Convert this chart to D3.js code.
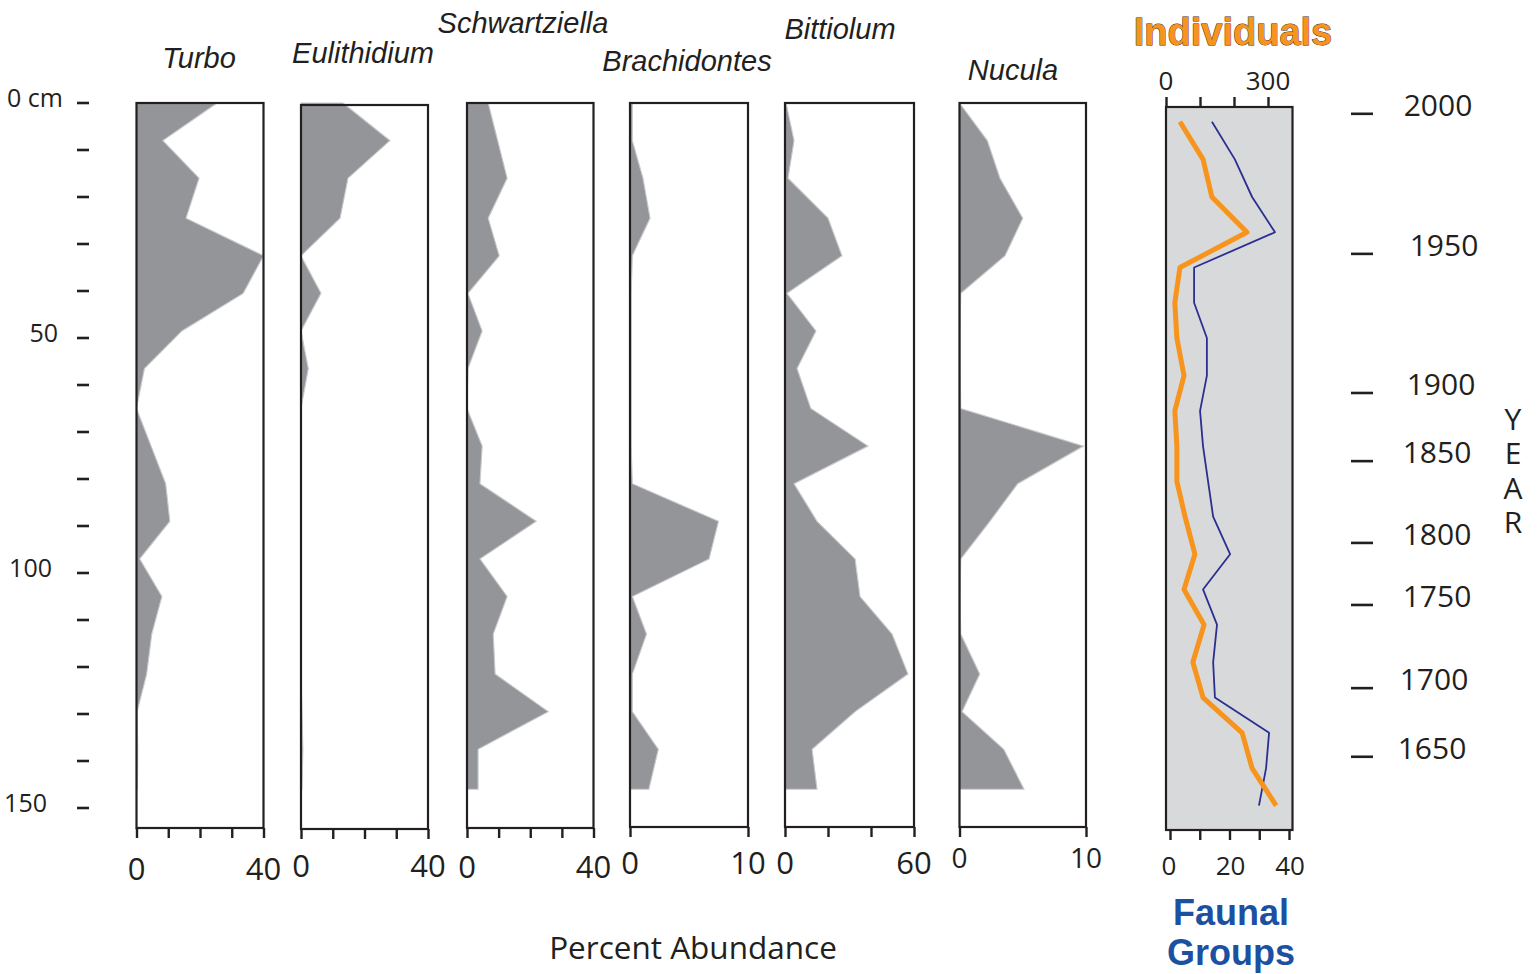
<!DOCTYPE html>
<html>
<head>
<meta charset="utf-8">
<script src="https://cdn.jsdelivr.net/npm/d3@7"></script>
<style>
  html, body { margin: 0; padding: 0; background: #fff; }
  svg { display: block; }
  .num { font-family: "Open Sans", "Noto Sans", sans-serif; fill: #231f20; }
  .taxon { font-family: "Liberation Sans", Arial, sans-serif; font-style: italic; fill: #231f20; }
  .stacked { writing-mode: vertical-rl; text-orientation: upright; }
</style>
</head>
<body>
<svg id="chart" width="1539" height="974"></svg>
<script>
// Core depth (cm) of each faunal sample
const sampleDepth = [0, 8, 16, 24.5, 32.5, 40.5, 48.5, 56.5, 65, 73, 81, 89, 97, 105, 113, 121.5, 129.5, 137.5, 146];

// Percent abundance of each taxon per sample
const turbo         = [25.4, 8.3, 19.7, 15.6, 40, 33.6, 14.3, 2.5, 0, 4.6, 9.2, 10.5, 1, 8, 4.8, 3.2, 0.2, 0.4, 0.3];
const eulithidium   = [13.2, 28, 14.8, 12.3, 0, 6.3, 0, 2.3, 0, 0, 0, 0, 0, 0, 0, 0, 0.3, 0.6, 0.3];
const schwartziella = [6.7, 9.7, 12.7, 6.7, 10.2, 0.3, 4.8, 0.3, 0, 4.8, 4.1, 21.9, 4.1, 12.7, 8.3, 8.9, 25.7, 3.5, 3.5];
const brachidontes  = [0.2, 0.2, 1.1, 1.7, 0.2, 0.1, 0.1, 0.1, 0.1, 0.1, 0.2, 7.5, 6.7, 0.2, 1.4, 0.2, 0.2, 2.4, 1.6];
const bittiolum     = [0.5, 4.2, 1.4, 20, 26.5, 0.9, 14.4, 5.6, 12, 38.6, 4.2, 14.9, 32.6, 34.9, 49.8, 57.2, 32.6, 12.6, 14.9];
const nucula        = [0, 2.2, 3.2, 5.0, 3.6, 0.1, 0.05, 0.05, 0.1, 9.8, 4.6, 2.4, 0.1, 0.05, 0.1, 1.6, 0.2, 3.5, 5.1];

// Counts per sample (individuals and faunal groups)
const countDepth   = [4, 12, 20, 27.5, 35, 42.5, 50, 58, 65.5, 73, 80.5, 88, 96, 103.5, 111, 119, 126.5, 134, 141.5, 149.5];
const individuals  = [41, 109, 135, 238, 41, 26, 32, 53, 26, 32, 32, 56, 85, 53, 112, 79, 109, 224, 253, 324];
const faunalGroups = [14.1, 21.8, 27.6, 35.3, 8.1, 8.1, 12.4, 12.4, 10.1, 11.1, 12.8, 14.5, 20.2, 11.1, 15.8, 14.5, 15.1, 33.3, 32.3, 29.9];

// Depth axis ticks and labels
const depthTicks  = [0, 10, 20, 30, 40, 50, 60, 70, 80, 90, 100, 110, 120, 130, 140, 150];
const depthLabels = ["0 cm", "50", "100", "150"];
const depthLabelValues = [0, 50, 100, 150];

// Age model: calendar year at core depth
const years     = [2000, 1950, 1900, 1850, 1800, 1750, 1700, 1650];
const yearDepth = [2.3, 32.1, 61.7, 76.2, 93.6, 106.8, 124.5, 139.1];
const yearTitle = "YEAR";

const svg = d3.select("#chart");
const ink = "#231f20";
const y = d3.scaleLinear().domain([0, 150]).range([103, 808]);

// --- depth axis on the left ---
const dAxis = svg.append("g");
dAxis.selectAll("line").data(depthTicks).join("line")
  .attr("x1", 77).attr("x2", 89)
  .attr("y1", d => y(d)).attr("y2", d => y(d))
  .attr("stroke", ink).attr("stroke-width", 2.6);
dAxis.selectAll("text").data(depthLabelValues).join("text")
  .attr("class", "num")
  .attr("x", (d, i) => [63, 58, 52, 47][i])
  .attr("y", d => y(d) + 4)
  .attr("text-anchor", "end")
  .attr("font-size", 25)
  .text((d, i) => depthLabels[i]);

// --- taxon panels ---
const panels = [
  { name: "Turbo",         values: turbo,         max: 40, ticks: [0,10,20,30,40], x0: 136.5, x1: 263.5, top: 103, bottom: 828, tx: 199,  ty: 68, lab: 880, fs: 31 },
  { name: "Eulithidium",   values: eulithidium,   max: 40, ticks: [0,10,20,30,40], x0: 301,   x1: 428,   top: 105, bottom: 829, tx: 363,  ty: 63, lab: 877, fs: 31 },
  { name: "Schwartziella", values: schwartziella, max: 40, ticks: [0,10,20,30,40], x0: 467,   x1: 593.5, top: 103, bottom: 828, tx: 523,  ty: 33, lab: 878, fs: 31 },
  { name: "Brachidontes",  values: brachidontes,  max: 10, ticks: [0,10],          x0: 630,   x1: 748,   top: 103, bottom: 827, tx: 687,  ty: 71, lab: 874, fs: 31 },
  { name: "Bittiolum",     values: bittiolum,     max: 60, ticks: [0,20,40,60],    x0: 785,   x1: 914,   top: 103, bottom: 827, tx: 840,  ty: 39, lab: 874, fs: 31 },
  { name: "Nucula",        values: nucula,        max: 10, ticks: [0,10],          x0: 959.5, x1: 1086,  top: 103, bottom: 827, tx: 1013, ty: 80, lab: 868, fs: 28 }
];

panels.forEach(p => {
  const x = d3.scaleLinear().domain([0, p.max]).range([p.x0, p.x1]);
  const g = svg.append("g");

  g.append("rect")
    .attr("x", p.x0).attr("y", p.top)
    .attr("width", p.x1 - p.x0).attr("height", p.bottom - p.top)
    .attr("fill", "#fff");

  const area = d3.area()
    .y((d, i) => y(sampleDepth[i]))
    .x0(x(0))
    .x1(d => x(d));
  g.append("path")
    .datum(p.values)
    .attr("d", area)
    .attr("fill", "#939598")
    .attr("stroke", "#c9cacc")
    .attr("stroke-width", 1.1);

  g.append("rect")
    .attr("x", p.x0).attr("y", p.top)
    .attr("width", p.x1 - p.x0).attr("height", p.bottom - p.top)
    .attr("fill", "none").attr("stroke", ink).attr("stroke-width", 2.2);

  const axis = d3.axisBottom(x).tickValues(p.ticks).tickSize(10).tickFormat("");
  const ag = g.append("g").attr("transform", `translate(0,${p.bottom})`).call(axis);
  ag.select(".domain").remove();
  ag.selectAll(".tick line").attr("stroke", ink).attr("stroke-width", 2.4);

  const ends = [0, p.max];
  g.selectAll(".endlab").data(ends).join("text")
    .attr("class", "num")
    .attr("x", d => x(d))
    .attr("y", p.lab)
    .attr("text-anchor", "middle")
    .attr("font-size", p.fs)
    .text(d => d);

  g.append("text")
    .attr("class", "taxon")
    .attr("x", p.tx).attr("y", p.ty)
    .attr("text-anchor", "middle")
    .attr("font-size", 29)
    .text(p.name);
});

// --- counts panel (individuals on top axis, faunal groups on bottom axis) ---
const cx0 = 1166, cx1 = 1292.5, ctop = 107, cbot = 830;
const xInd = d3.scaleLinear().domain([0, 300]).range([1166, 1268]);
const xFg  = d3.scaleLinear().domain([0, 40]).range([1170, 1289]);

const cg = svg.append("g");
cg.append("rect")
  .attr("x", cx0).attr("y", ctop).attr("width", cx1 - cx0).attr("height", cbot - ctop)
  .attr("fill", "#d8d9db").attr("stroke", ink).attr("stroke-width", 2.2);

cg.append("path")
  .datum(faunalGroups)
  .attr("d", d3.line().x(d => xFg(d)).y((d, i) => y(countDepth[i])))
  .attr("fill", "none").attr("stroke", "#2b2f8f").attr("stroke-width", 1.8)
  .attr("stroke-linejoin", "round");

cg.append("path")
  .datum(individuals)
  .attr("d", d3.line().x(d => xInd(d)).y((d, i) => y(countDepth[i])))
  .attr("fill", "none").attr("stroke", "#f7941d").attr("stroke-width", 5)
  .attr("stroke-linejoin", "round");

const topAxis = cg.append("g").attr("transform", `translate(0,${ctop})`)
  .call(d3.axisTop(xInd).tickValues([0, 100, 200, 300]).tickSize(10).tickFormat(""));
topAxis.select(".domain").remove();
topAxis.selectAll(".tick line").attr("stroke", ink).attr("stroke-width", 2.4);
cg.selectAll(".toplab").data([0, 300]).join("text")
  .attr("class", "num")
  .attr("x", d => xInd(d)).attr("y", 90)
  .attr("text-anchor", "middle").attr("font-size", 26)
  .text(d => d);

const botAxis = cg.append("g").attr("transform", `translate(0,${cbot})`)
  .call(d3.axisBottom(xFg).tickValues([0, 10, 20, 30, 40]).tickSize(10).tickFormat(""));
botAxis.select(".domain").remove();
botAxis.selectAll(".tick line").attr("stroke", ink).attr("stroke-width", 2.4);
cg.selectAll(".botlab").data([0, 20, 40]).join("text")
  .attr("class", "num")
  .attr("x", d => xFg(d) - (d === 0 ? 1 : -1)).attr("y", 875)
  .attr("text-anchor", "middle").attr("font-size", 26)
  .text(d => d);

cg.append("text")
  .attr("x", 1233).attr("y", 45)
  .attr("text-anchor", "middle")
  .attr("font-family", "Liberation Sans, Arial, sans-serif")
  .attr("font-weight", "bold").attr("font-size", 38)
  .attr("fill", "#f7941d").attr("stroke", "#3d2b1f").attr("stroke-width", 0.9)
  .attr("paint-order", "stroke")
  .text("Individuals");

const fgTitle = cg.append("text")
  .attr("text-anchor", "middle")
  .attr("font-family", "Liberation Sans, Arial, sans-serif")
  .attr("font-weight", "bold").attr("font-size", 36)
  .attr("fill", "#1c51a1");
fgTitle.append("tspan").attr("x", 1231).attr("y", 925).text("Faunal");
fgTitle.append("tspan").attr("x", 1231).attr("y", 965).text("Groups");

// --- year axis on the right ---
const ya = svg.append("g");
ya.selectAll("line").data(yearDepth).join("line")
  .attr("x1", 1351).attr("x2", 1373)
  .attr("y1", d => y(d)).attr("y2", d => y(d))
  .attr("stroke", ink).attr("stroke-width", 2.6);
ya.selectAll("text.yr").data(years).join("text")
  .attr("class", "num yr")
  .attr("x", (d, i) => [1438, 1444, 1441, 1437, 1437, 1437, 1434, 1432][i])
  .attr("y", (d, i) => y(yearDepth[i]) + 2)
  .attr("text-anchor", "middle").attr("font-size", 30)
  .text(d => d);

// axis title set vertically, letters upright
ya.append("text")
  .attr("class", "num stacked")
  .attr("x", 1513).attr("y", 398)
  .attr("font-size", 30)
  .attr("letter-spacing", -6.7)
  .text(yearTitle);

// --- shared x title ---
svg.append("text")
  .attr("class", "num")
  .attr("x", 693).attr("y", 959)
  .attr("text-anchor", "middle").attr("font-size", 31.5)
  .text("Percent Abundance");
</script>
</body>
</html>
